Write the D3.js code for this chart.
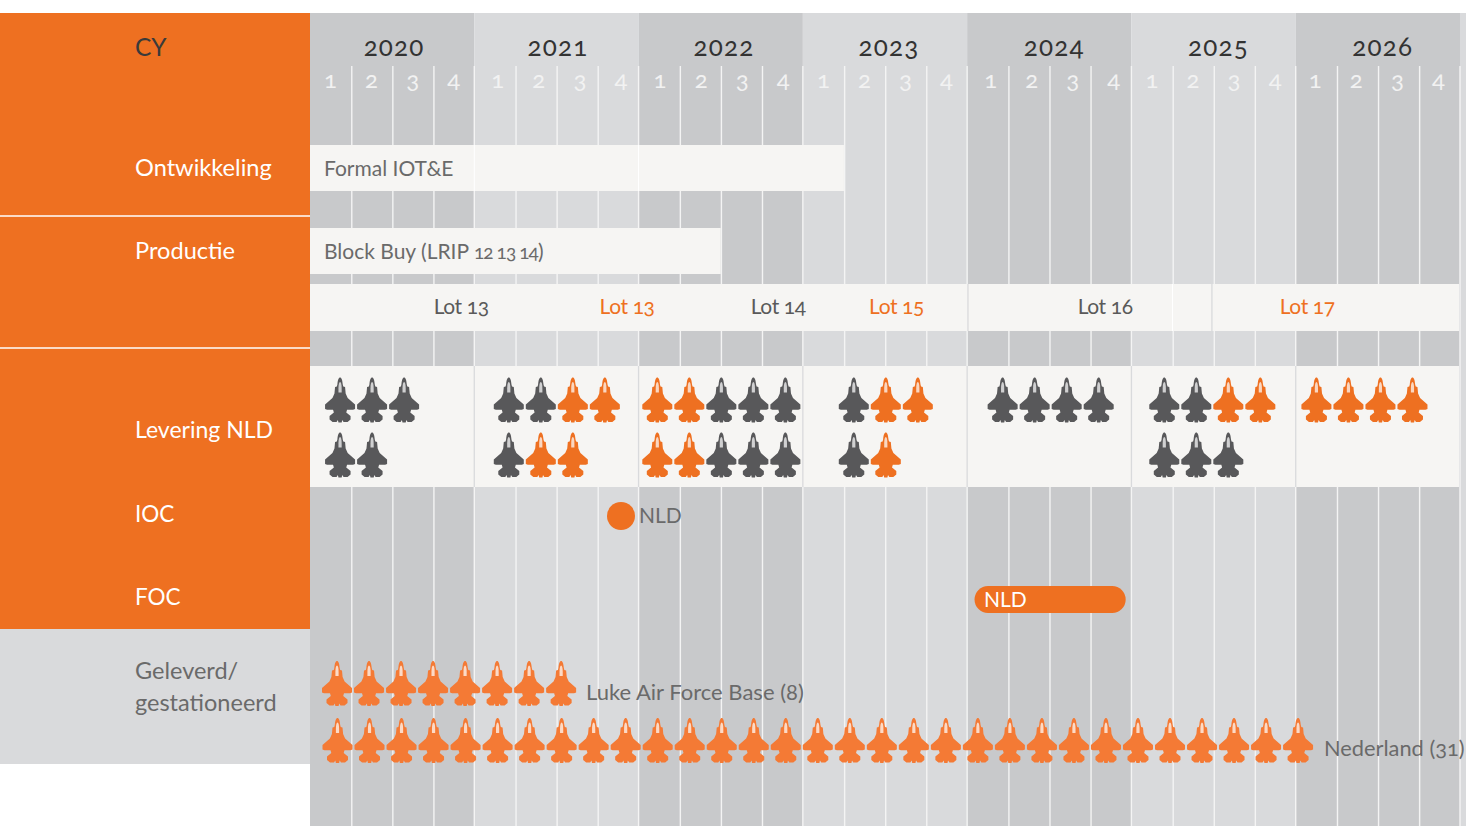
<!DOCTYPE html>
<html><head><meta charset="utf-8">
<script src="https://cdn.jsdelivr.net/npm/d3@7/dist/d3.min.js"></script>
<style>html,body{margin:0;padding:0;background:#fff}svg{display:block}
text{font-family:Lato,"Open Sans",sans-serif;font-feature-settings:"onum" 1,"lnum" 0}</style>
</head><body><svg id="c" width="1466" height="826"></svg>
<script>
const years = [2020,2021,2022,2023,2024,2025,2026];
const quarters = [1,2,3,4];
const yearLabelCentres = [2020.512,2021.51,2022.52,2023.525,2024.53,2025.53,2026.53];
const quarterNudge = [0,0.018,0.006,0,0.018,0,-0.006];
const rowLabels = [
  {t:"CY",y:56,s:24.5},{t:"Ontwikkeling",y:176,s:23.6},{t:"Productie",y:259,s:23.6},
  {t:"Levering NLD",y:438,s:23},{t:"IOC",y:522,s:22.5},{t:"FOC",y:604.5,s:22.5}];
const statusLabels = [{t:"Geleverd/",y:679},{t:"gestationeerd",y:711}];
const programmeBars = [{t:"Formal IOT&E",end:2023.25,y0:145,y1:191},{t:"Block Buy (LRIP ",digits:"12 13 14",tail:")",end:2022.5,y0:228,y1:274}];
const lotNames = ["Lot 13","Lot 13","Lot 14","Lot 15","Lot 16","Lot 17"];
const lotCentres = [2020.92,2021.93,2022.85,2023.57,2024.84,2026.07];
const lotOwn = [false,true,false,true,false,true];
const lotDividers = [2024.005,2025.49];
// g = grey, o = orange, per year: first and second row of delivered aircraft
const deliveryRow1 = ["ggg","ggoo","ooggg","goo","gggg","ggoo","oooo"];
const deliveryRow2 = ["gg","goo","ooggg","go","","ggg",""];
const deliveryStart = [0.183,0.21,0.114,0.31,0.216,0.2,0.126];
const lukeCount = 8;
const nederlandCount = 31;
const iocYear = 2021.893;
const focRange = [2024.045,2024.965];

const W=1466,H=826,left=310,right=1460;
const x=d3.scaleLinear().domain([2020,2027]).range([left,right]);
const svg=d3.select("#c");
const ORANGE="#ee7021",ICON_OR="#f47a35",DARK="#58585a",PALE="#f6f5f3",GREY1="#c8c9cb",GREY2="#d9dadc",TXT="#6a6a6a";

// year columns
svg.selectAll(".yr").data(years.concat([2027])).join("rect")
  .attr("x",d=>x(d)).attr("y",13).attr("width",d=>x(d+1)-x(d)).attr("height",H-13)
  .attr("fill",(d,i)=>i%2?GREY2:GREY1);
// quarter grid
const qLines=d3.range(1,7*4+1).map(i=>2020+i/4);
const qx=d=>x(d)+(d%1?0.7:0);
svg.selectAll(".q").data(qLines).join("line")
  .attr("x1",qx).attr("x2",qx).attr("y1",66).attr("y2",H)
  .attr("stroke","#f4f4f4").attr("stroke-width",1.4);

// bands
programmeBars.forEach(b=>{
  svg.append("rect").attr("x",left).attr("y",b.y0).attr("width",x(b.end)-left).attr("height",b.y1-b.y0).attr("fill",PALE);
  const t=svg.append("text").attr("x",324).attr("y",(b.y0+b.y1)/2+8).attr("fill",TXT).attr("font-size",21);
  t.append("tspan").text(b.t);
  if(b.digits){
    t.append("tspan").attr("font-size",19).attr("letter-spacing",-0.9).text(b.digits);
    t.append("tspan").text(b.tail);
  }
});
svg.selectAll(".ys").data([2021,2022]).join("line").attr("x1",d=>x(d)).attr("x2",d=>x(d)).attr("y1",145).attr("y2",191).attr("stroke","#fff").attr("stroke-width",1);
svg.append("rect").attr("x",left).attr("y",284).attr("width",right-left-1).attr("height",47).attr("fill",PALE);
svg.selectAll(".ld").data(lotDividers).join("line").attr("x1",d=>x(d)).attr("x2",d=>x(d)).attr("y1",284).attr("y2",331).attr("stroke","#d9dadc").attr("stroke-width",1.3);
svg.append("line").attr("x1",x(2025.25)).attr("x2",x(2025.25)).attr("y1",284).attr("y2",331).attr("stroke","#fff").attr("stroke-width",1);
svg.selectAll(".lot").data(lotNames).join("text").attr("x",(d,i)=>x(lotCentres[i])).attr("y",314)
  .attr("text-anchor","middle").attr("font-size",21).attr("letter-spacing",-0.4).attr("fill",(d,i)=>lotOwn[i]?ORANGE:"#5a5a5a").text(d=>d);
svg.append("rect").attr("x",left).attr("y",366).attr("width",right-left-1).attr("height",121).attr("fill",PALE);
svg.selectAll(".yd").data(years.slice(1)).join("line").attr("x1",d=>x(d)).attr("x2",d=>x(d)).attr("y1",366).attr("y2",487).attr("stroke","#d9dadc").attr("stroke-width",1.3);

// left panel
svg.append("rect").attr("x",0).attr("y",13).attr("width",left).attr("height",616).attr("fill",ORANGE);
svg.append("rect").attr("x",0).attr("y",629).attr("width",left).attr("height",135).attr("fill",GREY2);
svg.selectAll(".sep").data([216,348]).join("line").attr("x1",0).attr("x2",left).attr("y1",d=>d).attr("y2",d=>d).attr("stroke","#fff").attr("stroke-width",1.3);
svg.selectAll(".rl").data(rowLabels).join("text").attr("x",135).attr("y",d=>d.y).attr("font-size",d=>d.s)
  .attr("fill",(d,i)=>i?"#fff":"#3a3a3a").text(d=>d.t);
svg.selectAll(".sl").data(statusLabels).join("text").attr("x",135).attr("y",d=>d.y).attr("font-size",23.5).attr("fill",TXT).text(d=>d.t);

// header labels
svg.selectAll(".yl").data(years).join("text").attr("x",(d,i)=>x(yearLabelCentres[i])).attr("y",55.5).attr("text-anchor","middle")
  .attr("font-size",26).attr("letter-spacing",1.2).attr("fill","#333").text(d=>d);
years.forEach((y,i)=>{
  svg.selectAll(null).data(quarters).join("text").attr("x",q=>x(y+(q-.5)/4+quarterNudge[i])).attr("y",88).attr("text-anchor","middle")
    .attr("font-size",24).attr("fill","#f2f2f2").text(q=>q);
});

// aircraft
const JET="M0,0C1.4,0 2.2,2 2.7,7L3.2,9L5,9.5L5.6,16L7.6,20.5L15,27L15,31.5L13,32.3L7,32.3L6.2,35L10.5,38.5L10.5,42L7.5,44.5L3.5,44.5L2.2,42.5L1.6,45L-1.6,45L-2.2,42.5L-3.5,44.5L-7.5,44.5L-10.5,42L-10.5,38.5L-6.2,35L-7,32.3L-13,32.3L-15,31.5L-15,27L-7.6,20.5L-5.6,16L-5,9.5L-3.2,9L-2.7,7C-2.2,2 -1.4,0 0,0Z";
const SLIT="M0,4.5C1,4.5 1.6,7 1.6,11L1.6,15L-1.6,15L-1.6,11C-1.6,7 -1,4.5 0,4.5Z";
function jet(cx,cy,fill){
  const g=svg.append("g").attr("transform",`translate(${cx},${cy})`);
  g.append("path").attr("d",JET).attr("fill",fill);
  g.append("path").attr("d",SLIT).attr("fill","#fff").attr("fill-opacity",.72);
}
const step=x(2020.1949)-x(2020);
[[deliveryRow1,377.5],[deliveryRow2,432.5]].forEach(([row,cy])=>{
  row.forEach((s,i)=>s.split("").forEach((c,k)=>{
    jet(x(years[i]+deliveryStart[i])+k*step,cy,c==="o"?ORANGE:DARK);
  }));
});
d3.range(lukeCount).forEach(k=>jet(337+k*step,661,ICON_OR));
d3.range(nederlandCount).forEach(k=>jet(337.5+k*step,718,ICON_OR));
svg.append("text").attr("x",586).attr("y",699.5).attr("font-size",22).attr("fill",TXT).text("Luke Air Force Base (8)");
svg.append("text").attr("x",1324).attr("y",755.5).attr("font-size",21.8).attr("fill",TXT).text("Nederland (31)");

// IOC / FOC
svg.append("circle").attr("cx",x(iocYear)).attr("cy",516).attr("r",14).attr("fill",ORANGE);
svg.append("text").attr("x",639).attr("y",523).attr("font-size",21).attr("fill",TXT).text("NLD");
svg.append("rect").attr("x",x(focRange[0])).attr("y",586).attr("width",x(focRange[1])-x(focRange[0])).attr("height",27).attr("rx",13.5).attr("fill",ORANGE);
svg.append("text").attr("x",984).attr("y",607).attr("font-size",21).attr("fill","#fff").text("NLD");
</script></body></html>
